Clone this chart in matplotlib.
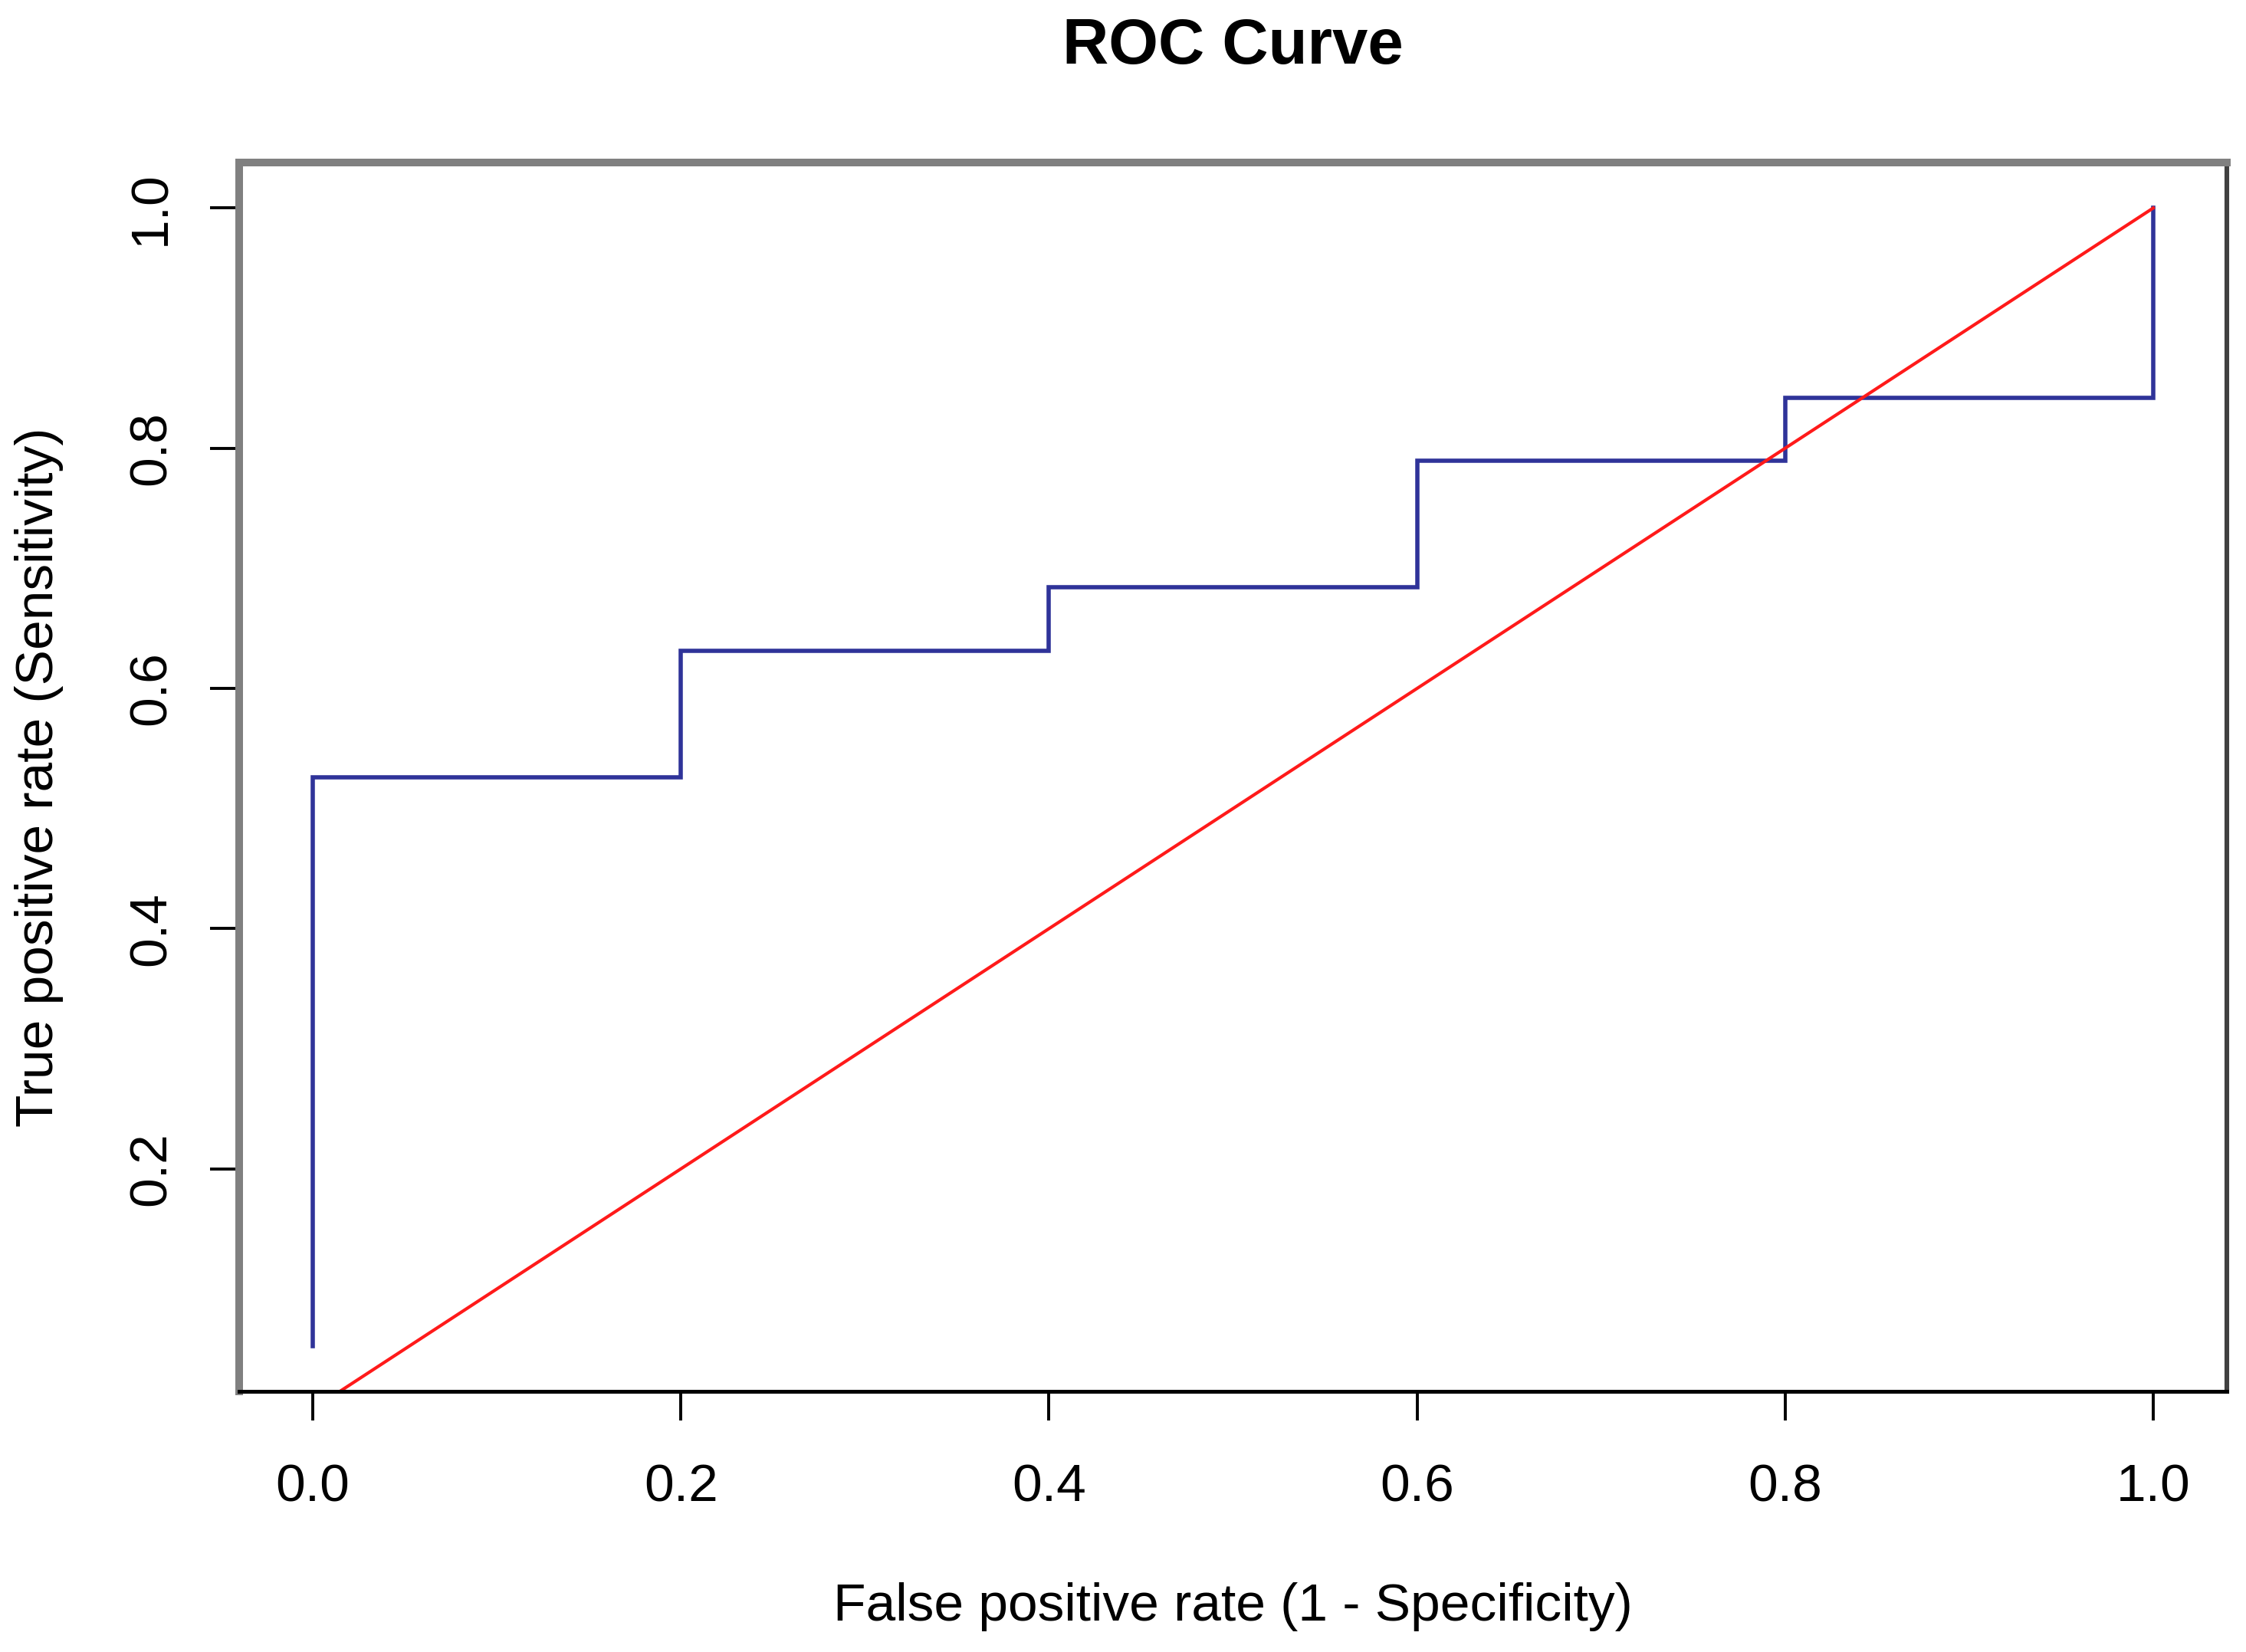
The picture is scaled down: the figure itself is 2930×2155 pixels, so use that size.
"""ROC curve, R-style base graphics look."""
import matplotlib
matplotlib.use("Agg")
import matplotlib.pyplot as plt

plt.rcParams['font.family'] = ['Liberation Sans', 'DejaVu Sans']

# ROC steps (FPR, TPR)
fpr = [0.0, 0.0, 0.2, 0.2, 0.4, 0.4, 0.6, 0.6, 0.8, 0.8, 1.0, 1.0]
tpr = [1/19, 10/19, 10/19, 12/19, 12/19, 13/19, 13/19, 15/19, 15/19, 16/19, 16/19, 1.0]

diag_x = [0.0, 1.0]
diag_y = [0.0, 1.0]

x_ticks = [0.0, 0.2, 0.4, 0.6, 0.8, 1.0]
x_tick_labels = ["0.0", "0.2", "0.4", "0.6", "0.8", "1.0"]
y_ticks = [0.2, 0.4, 0.6, 0.8, 1.0]
y_tick_labels = ["0.2", "0.4", "0.6", "0.8", "1.0"]

W, H, DPI = 2930, 2155, 200
fig = plt.figure(figsize=(W / DPI, H / DPI), dpi=DPI)
fig.patch.set_facecolor('white')

# axes box in pixels: left 312, right 2905, top 212, bottom 1815
left, right, top, bottom = 312, 2905, 212, 1815
ax = fig.add_axes([left / W, 1 - bottom / H, (right - left) / W, (bottom - top) / H])

ax.plot(fpr, tpr, color='#2f3399', lw=2.0, solid_joinstyle='miter')
ax.plot(diag_x, diag_y, color='#ff1a1a', lw=1.5)

ymin = min(tpr)
yr = 1.0 - ymin
ax.set_xlim(-0.04, 1.04)
ax.set_ylim(ymin - 0.04 * yr, 1.0 + 0.04 * yr)

ax.set_xticks(x_ticks)
ax.set_xticklabels(x_tick_labels)
ax.set_yticks(y_ticks)
ax.set_yticklabels(y_tick_labels, rotation=90, va='center')

ax.tick_params(axis='both', direction='out', length=13.7, width=1.4,
               color='black', labelsize=25)
ax.tick_params(axis='x', pad=20)
ax.tick_params(axis='y', pad=16)

ax.spines['top'].set_color('#808080')
ax.spines['top'].set_linewidth(3.6)
ax.spines['left'].set_color('#808080')
ax.spines['left'].set_linewidth(3.6)
ax.spines['bottom'].set_color('black')
ax.spines['bottom'].set_linewidth(1.8)
ax.spines['right'].set_color('#404040')
ax.spines['right'].set_linewidth(2.2)

ax.text(0.5, 1.0805, "ROC Curve", transform=ax.transAxes, ha='center',
        va='baseline', fontsize=30, fontweight='bold')

fig.text((left + right) / 2 / W, 1 - 2096 / H, "False positive rate (1 - Specificity)",
         ha='center', va='center', fontsize=25)
fig.text(51 / W, 1 - ((top + bottom) / 2) / H, "True positive rate (Sensitivity)",
         ha='center', va='center', rotation=90, fontsize=25)

fig.savefig("out.png", dpi=DPI, facecolor='white')
